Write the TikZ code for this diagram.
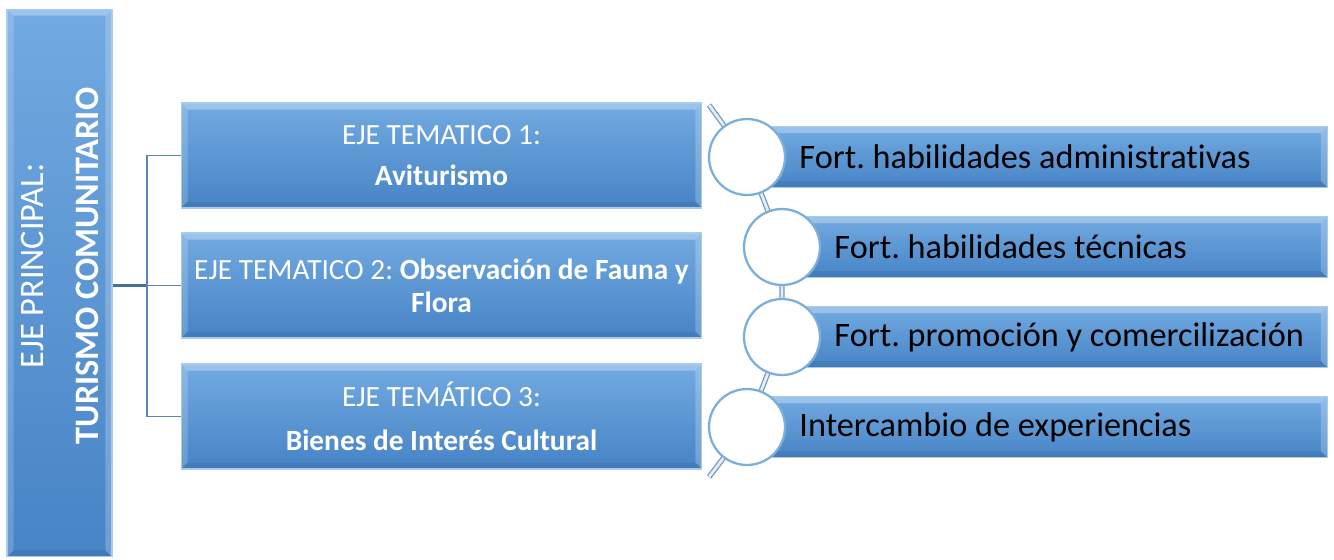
\documentclass[tikz,border=0pt]{standalone}
\usepackage{fontspec}
\setmainfont{Carlito}[Ligatures=NoCommon]
\usetikzlibrary{positioning}
\frenchspacing

\definecolor{boxtop}{HTML}{72AAE1}
\definecolor{boxbot}{HTML}{4784C6}
\definecolor{edgelight}{HTML}{A9CCEC}
\definecolor{linkdark}{HTML}{41719C}
\definecolor{linkmid}{HTML}{5A86B4}
\definecolor{ringline}{HTML}{7AAEDD}
\definecolor{spineout}{HTML}{7397C0}
\definecolor{spinein}{HTML}{E2EDF7}
\newcommand{\bev}{0.13cm}

\tikzset{
  bevel/.style={path picture={
    \fill[white, opacity=.30] (path picture bounding box.north west) -- (path picture bounding box.north east)
      -- ([xshift=-\bev, yshift=-\bev]path picture bounding box.north east)
      -- ([xshift=\bev, yshift=-\bev]path picture bounding box.north west) -- cycle;
    \fill[white, opacity=.18] (path picture bounding box.north west) -- (path picture bounding box.south west)
      -- ([xshift=\bev, yshift=\bev]path picture bounding box.south west)
      -- ([xshift=\bev, yshift=-\bev]path picture bounding box.north west) -- cycle;
    \fill[white, opacity=.22] (path picture bounding box.north east) -- (path picture bounding box.south east)
      -- ([xshift=-\bev, yshift=\bev]path picture bounding box.south east)
      -- ([xshift=-\bev, yshift=-\bev]path picture bounding box.north east) -- cycle;
    \fill[black, opacity=.07] (path picture bounding box.south west) -- (path picture bounding box.south east)
      -- ([xshift=-\bev, yshift=\bev]path picture bounding box.south east)
      -- ([xshift=\bev, yshift=\bev]path picture bounding box.south west) -- cycle;
  }},
  ejebox/.style={rectangle, draw=edgelight, line width=0.6pt, top color=boxtop, bottom color=boxbot,
    bevel, text=white, align=center, inner sep=0pt},
  mainbox/.style={ejebox, minimum width=2.1cm, minimum height=10.96cm},
  temabox/.style={ejebox, minimum width=10.42cm, minimum height=2.1cm, font=\fontsize{16.7}{19}\selectfont},
  linebar/.style={ejebox, anchor=west, minimum height=1.22cm},
  ring/.style={circle, draw=ringline, line width=1.3pt, fill=white, minimum size=1.52cm, inner sep=0pt},
  bartext/.style={anchor=west, inner sep=0pt, text=black, font=\fontsize{19.5}{23}\selectfont},
  spine/.style={draw=spineout, line width=0.7pt, double=spinein, double distance=1.6pt},
  trunk/.style={draw=linkdark, line width=1.6pt},
  branch/.style={draw=linkmid, line width=1.1pt},
}

\begin{document}
\begin{tikzpicture}[x=0.02cm, y=-0.02cm]
\useasboundingbox (0,0) rectangle (1334,559);

% eje principal
\node[mainbox] (main) at (59.5,283) {};
\node[rotate=90, text=white, align=center, inner sep=0pt,
      font=\fontsize{19.5}{31.7}\selectfont] (mainlbl) at (60,266)
      {EJE PRINCIPAL:\\ \textbf{TURISMO COMUNITARIO}};

% ejes tematicos
\node[temabox] (t1) at (441.5,155.5) {EJE TEMATICO 1:\\[4pt] \textbf{Aviturismo}};
\node[temabox] (t2) at (441.5,285.5) {EJE TEMATICO 2: \textbf{Observación de Fauna y}\\ \textbf{Flora}};
\node[temabox] (t3) at (441.5,416.5) {EJE TEMÁTICO 3:\\[6pt] \textbf{Bienes de Interés Cultural}};

\coordinate (bus) at (147,285.5);
\draw[trunk] (main.east |- t2) -- (bus);
\draw[branch] (t1.west) -| (bus) |- (t3.west);
\draw[branch] (bus) -- (t2.west);

% lineas de accion
\coordinate (c1) at (747,157);
\coordinate (c2) at (782,247);
\coordinate (c3) at (782,337);
\coordinate (c4) at (747,427);
\coordinate (stop) at (709,105);
\coordinate (sbot) at (709,477);

\node[linebar, minimum width=11.6cm] (b1) at (c1) {};
\node[linebar, minimum width=10.9cm] (b2) at (c2) {};
\node[linebar, minimum width=10.9cm] (b3) at (c3) {};
\node[linebar, minimum width=11.6cm] (b4) at (c4) {};

\draw[spine] (stop) -- (c1) -- (c2) -- (c3) -- (c4) -- (sbot);

\node[ring] (r1) at (c1) {};
\node[ring] (r2) at (c2) {};
\node[ring] (r3) at (c3) {};
\node[ring] (r4) at (c4) {};

\node[bartext, right=0.26cm of r1] (l1) {Fort. habilidades administrativas};
\node[bartext, right=0.26cm of r2] (l2) {Fort. habilidades técnicas};
\node[bartext, right=0.26cm of r3] (l3) {Fort. promoción y comercilización};
\node[bartext, right=0.26cm of r4] (l4) {Intercambio de experiencias};
\end{tikzpicture}
\end{document}
